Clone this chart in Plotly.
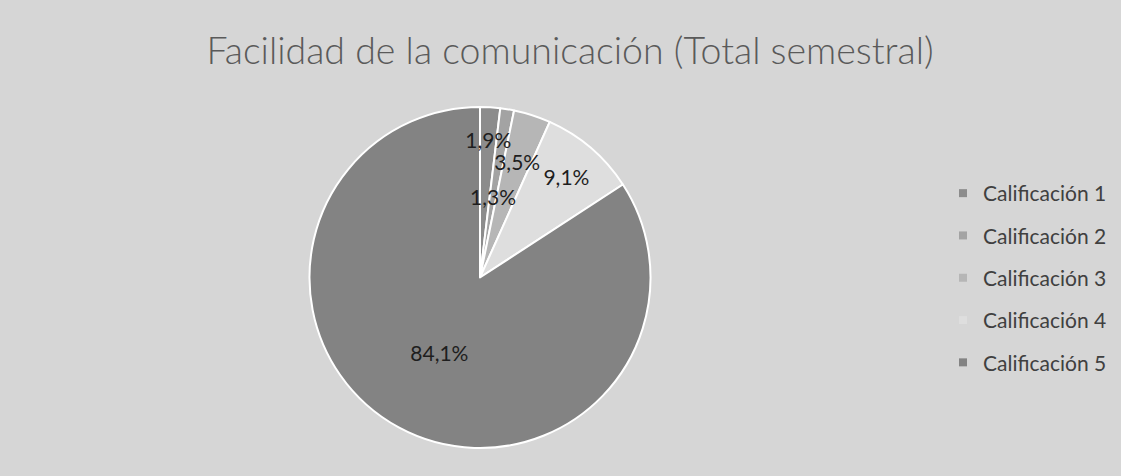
import plotly.graph_objects as go

# ---- data ----
categories = ["Calificación 1", "Calificación 2", "Calificación 3", "Calificación 4", "Calificación 5"]
percent_values = [1.9, 1.3, 3.5, 9.1, 84.1]
slice_colors = ["#8c8c8c", "#a3a3a3", "#b6b6b6", "#dedede", "#838383"]

title_text = "Facilidad de la comunicación (Total semestral)"

# ---- layout constants ----
W, H = 1121, 476
CX, CY, R = 480, 277.5, 170.5          # pie centre / radius in pixels
# labels of the thin slices are drawn by transparent overlay pies of smaller
# radius (fraction of R) so that they sit inside the pie without colliding
label_ring = {0: 0.86, 1: 0.50, 2: 0.79}
label_fmt = "%{value:.1f}%"


def domain_for(frac):
    r = R * frac
    return dict(x=[(CX - r) / W, (CX + r) / W], y=[1 - (CY + r) / H, 1 - (CY - r) / H])


fig = go.Figure()

# main pie
fig.add_trace(go.Pie(
    labels=categories,
    values=percent_values,
    sort=False,
    direction="clockwise",
    rotation=0,
    marker=dict(colors=slice_colors, line=dict(color="white", width=2)),
    texttemplate=["" if i in label_ring else label_fmt for i in range(len(categories))],
    textposition="inside",
    insidetextorientation="horizontal",
    textfont=dict(family="Lato", size=21, color="#1e1e1e"),
    domain=domain_for(1.0),
    showlegend=False,
    hoverinfo="label+percent",
))

# overlay pies carrying the labels of the thin slices
for idx, frac in label_ring.items():
    fig.add_trace(go.Pie(
        labels=categories,
        values=percent_values,
        sort=False,
        direction="clockwise",
        rotation=0,
        marker=dict(colors=["rgba(0,0,0,0)"] * len(categories), line=dict(width=0)),
        texttemplate=[label_fmt if i == idx else "" for i in range(len(categories))],
        textposition="inside",
        insidetextorientation="horizontal",
        textfont=dict(family="Lato", size=21, color="#1e1e1e"),
        domain=domain_for(frac),
        showlegend=False,
        hoverinfo="skip",
    ))

# legend entries (one per category, spaced like the original)
for i, (cat, col) in enumerate(zip(categories, slice_colors)):
    fig.add_trace(go.Scatter(
        x=[None], y=[None], mode="markers", name=cat,
        legendgroup=f"g{i}",
        marker=dict(symbol="square", size=8, color=col),
        showlegend=True, hoverinfo="skip",
    ))

fig.update_layout(
    width=W, height=H,
    margin=dict(l=0, r=0, t=0, b=0),
    paper_bgcolor="#d6d6d6",
    plot_bgcolor="rgba(0,0,0,0)",
    separators=",.",
    title=dict(
        text=title_text,
        x=570 / W, xanchor="center",
        y=1 - 51 / H, yanchor="middle",
        font=dict(family="Lato", size=37.5, color="#5a5a5a", weight=300),
    ),
    xaxis=dict(visible=False),
    yaxis=dict(visible=False),
    legend=dict(
        x=943 / W, xanchor="left",
        y=1 - 278 / H, yanchor="middle",
        traceorder="grouped",
        tracegroupgap=12,
        font=dict(family="Lato", size=21, color="#404040"),
        bgcolor="rgba(0,0,0,0)",
        itemwidth=30,
    ),
    uniformtext=dict(minsize=21, mode="show"),
)

fig.write_html(
    "out.html",
    config={"displayModeBar": False},
    post_script="document.body.style.margin='0';",
)
